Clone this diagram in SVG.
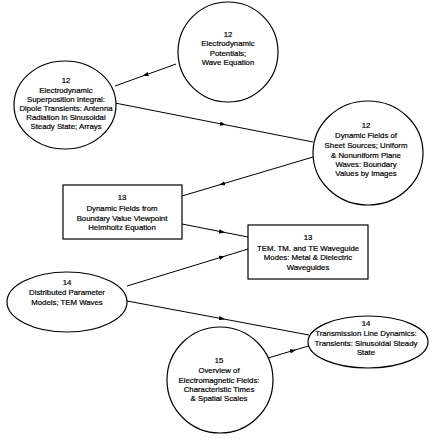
<svg xmlns="http://www.w3.org/2000/svg" width="436" height="442" viewBox="0 0 436 442">
<defs>
<style>
.n{fill:#fff;stroke:#000;stroke-width:1.2}
.t{font-family:"Liberation Sans",Arial,sans-serif;font-size:7.8px;fill:#000;stroke:#000;stroke-width:0.2;text-anchor:middle}
.c{fill:none;stroke:#000;stroke-width:1;marker-mid:url(#ah)}
</style>
<marker id="ah" viewBox="0 0 8 6" refX="4" refY="3" markerWidth="6" markerHeight="4.4" markerUnits="userSpaceOnUse" orient="auto">
<path d="M0,0 L8,3 L0,6 z" fill="#000"/>
</marker>
</defs>
<rect width="436" height="442" fill="#fff"/>
<g id="connectors">
<path class="c" d="M176,64 L145.5,75 L115,86"/>
<path class="c" d="M115,103 L223,124.3 L313,142"/>
<path class="c" d="M313,157 L222,184.1 L182,196"/>
<path class="c" d="M182,224 L222,231.9 L248,237"/>
<path class="c" d="M127,286 L222,257 L248,249"/>
<path class="c" d="M127,301 L222,318.7 L309,335"/>
<path class="c" d="M268,358 L293,350.6 L312,345"/>
</g>
<g id="potentials">
<circle class="n" cx="228" cy="52" r="50"/>
<text class="t" x="228" y="37">12</text>
<text class="t" x="228" y="46">Electrodynamic</text>
<text class="t" x="228" y="55.5">Potentials;</text>
<text class="t" x="228" y="65">Wave Equation</text>
</g>
<g id="superposition">
<ellipse class="n" cx="65" cy="105" rx="51" ry="44"/>
<text class="t" x="66" y="83">12</text>
<text class="t" x="66" y="93">Electrodynamic</text>
<text class="t" x="66" y="102">Superposition Integral:</text>
<text class="t" x="66" y="111">Dipole Transients: Antenna</text>
<text class="t" x="66" y="120">Radiation in Sinusoidal</text>
<text class="t" x="66" y="129">Steady State; Arrays</text>
</g>
<g id="sheet">
<ellipse class="n" cx="368" cy="153" rx="55" ry="52"/>
<text class="t" x="366" y="128">12</text>
<text class="t" x="366" y="138">Dynamic Fields of</text>
<text class="t" x="366" y="148">Sheet Sources; Uniform</text>
<text class="t" x="366" y="158">&amp; Nonuniform Plane</text>
<text class="t" x="366" y="167">Waves: Boundary</text>
<text class="t" x="366" y="176">Values by Images</text>
</g>
<g id="boundary">
<rect class="n" x="63" y="185" width="119" height="54"/>
<text class="t" x="122" y="200">13</text>
<text class="t" x="122" y="211">Dynamic Fields from</text>
<text class="t" x="122" y="221">Boundary Value Viewpoint</text>
<text class="t" x="122" y="230">Helmholtz Equation</text>
</g>
<g id="waveguide">
<rect class="n" x="248" y="225" width="120" height="54"/>
<text class="t" x="308" y="240">13</text>
<text class="t" x="308" y="251">TEM. TM. and TE Waveguide</text>
<text class="t" x="308" y="260">Modes: Metal &amp; Dielectric</text>
<text class="t" x="308" y="270">Waveguides</text>
</g>
<g id="distributed">
<ellipse class="n" cx="67" cy="302" rx="60" ry="30"/>
<text class="t" x="67" y="285">14</text>
<text class="t" x="67" y="295">Distributed Parameter</text>
<text class="t" x="67" y="305">Models; TEM Waves</text>
</g>
<g id="transmission">
<ellipse class="n" cx="368" cy="342" rx="60" ry="26"/>
<text class="t" x="366" y="326">14</text>
<text class="t" x="366" y="336">Transmission Line Dynamics:</text>
<text class="t" x="366" y="346">Transients: Sinusoidal Steady</text>
<text class="t" x="366" y="355">State</text>
</g>
<g id="overview">
<circle class="n" cx="220" cy="380" r="53"/>
<text class="t" x="219" y="363">15</text>
<text class="t" x="219" y="373">Overview of</text>
<text class="t" x="219" y="383">Electromagnetic Fields:</text>
<text class="t" x="219" y="392">Characteristic Times</text>
<text class="t" x="219" y="401">&amp; Spatial Scales</text>
</g>
</svg>
